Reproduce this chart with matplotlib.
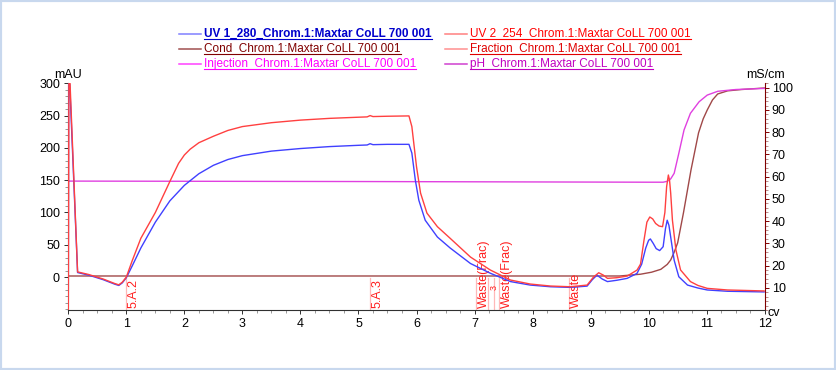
import matplotlib
matplotlib.use("Agg")
import matplotlib.pyplot as plt
from matplotlib.lines import Line2D
from matplotlib.patches import Rectangle
from matplotlib.ticker import MultipleLocator

plt.rcParams['font.family'] = ['Liberation Sans', 'DejaVu Sans']

# ---------------- data ----------------
uv1_x = [0, 0.005, 0.025, 0.16, 0.35, 0.6, 0.8, 0.87, 0.93, 1.0, 1.1, 1.25, 1.5, 1.75, 2.0, 2.25,
         2.5, 2.75, 3.0, 3.5, 4.0, 4.5, 5.0, 5.15, 5.2, 5.25, 5.5, 5.87, 5.92, 5.98, 6.04, 6.15,
         6.36, 6.58, 6.93, 7.27, 7.62, 7.96, 8.31, 8.65, 8.94, 9.03, 9.11, 9.2, 9.29, 9.45, 9.63,
         9.8, 9.88, 9.95, 10.0, 10.03, 10.08, 10.13, 10.19, 10.25, 10.29, 10.32, 10.35, 10.38,
         10.44, 10.52, 10.67, 10.85, 11.01, 11.36, 11.99]
uv1_y = [-51, 300, 298, 7, 3, -4, -11, -13, -9, -1, 17, 45, 85, 118, 142, 160,
         173, 182, 188, 195, 199, 202, 204, 204.5, 206.5, 205, 205.5, 205.5, 192, 150, 119, 88,
         62, 45, 21, 6, -7, -12.4, -15, -16, -14, -4, 3, -3, -7, -5, -2,
         5.7, 20, 45, 57, 59, 52, 44, 41, 47, 75, 88, 80, 62,
         26, 0.5, -12.4, -17, -20, -22, -23]

uv2_x = [0, 0.01, 0.03, 0.16, 0.35, 0.6, 0.8, 0.87, 0.93, 1.0, 1.1, 1.25, 1.5, 1.75, 1.9, 2.0,
         2.1, 2.25, 2.5, 2.75, 3.0, 3.5, 4.0, 4.5, 5.0, 5.15, 5.2, 5.25, 5.5, 5.87, 5.92, 6.0,
         6.07, 6.18, 6.36, 6.58, 6.93, 7.27, 7.62, 7.96, 8.31, 8.65, 8.94, 9.05, 9.14, 9.22, 9.29,
         9.45, 9.63, 9.8, 9.86, 9.92, 9.97, 10.02, 10.07, 10.12, 10.18, 10.24, 10.28, 10.31,
         10.34, 10.36, 10.38, 10.41, 10.47, 10.55, 10.72, 10.85, 11.01, 11.36, 11.99]
uv2_y = [-51, 300, 300, 8, 4, -3, -10, -12, -8, 0, 25, 60, 100, 148, 176, 189,
         198, 208, 218, 227, 233, 239, 243, 245.7, 247.5, 248, 250, 248.5, 249, 249.5, 233, 171,
         130, 99, 78, 60, 31, 11, -4.6, -10.8, -13.9, -15, -12.4, 0, 6.7, 3, -2,
         -1, 1.5, 10.8, 20, 57, 85, 93, 90, 83, 79, 78, 100, 140,
         158, 150, 130, 88, 42, 11, -7, -13, -17.5, -20, -21.5]

cond_x = [0, 9.5, 9.86, 10.05, 10.21, 10.32, 10.38, 10.44, 10.5, 10.6, 10.73, 10.86, 10.94,
          11.01, 11.1, 11.19, 11.36, 11.6, 12.0]
cond_y = [15.3, 15.3, 16.1, 17.0, 18.3, 20.5, 22.5, 26, 30.2, 43.7, 63, 79.7, 86,
          90, 94.5, 97.2, 98.6, 99.2, 99.9]

ph_x = [0, 5, 10.0, 10.25, 10.32, 10.38, 10.44, 10.52, 10.61, 10.72, 10.87, 11.01, 11.19, 11.5, 12.0]
ph_y = [58.0, 57.8, 57.5, 57.5, 57.9, 59, 61.5, 70.5, 81, 88.5, 93.7, 96.7, 98.4, 99.2, 99.7]

frac_x = [1.0, 5.2, 7.03, 7.24, 7.33, 7.43, 8.62]
frac_labels = ["5.A.2", "5.A.3", "Waste(Frac)", "", "3", "Waste(Frac)", "Waste"]

x_ticks = list(range(0, 13))
left_ticks = [0, 50, 100, 150, 200, 250, 300]
right_ticks = [10, 20, 30, 40, 50, 60, 70, 80, 90, 100]

legend_items = [
    ("UV 1_280_Chrom.1:Maxtar CoLL 700 001", "#8080FF", "#0000CC", True),
    ("UV 2_254_Chrom.1:Maxtar CoLL 700 001", "#FF8080", "#FF0000", False),
    ("Cond_Chrom.1:Maxtar CoLL 700 001", "#A05050", "#800000", False),
    ("Fraction_Chrom.1:Maxtar CoLL 700 001", "#FF9090", "#E00000", False),
    ("Injection_Chrom.1:Maxtar CoLL 700 001", "#FF40FF", "#FF00FF", False),
    ("pH_Chrom.1:Maxtar CoLL 700 001", "#D040D0", "#C000C0", False),
]

# ---------------- figure ----------------
W, H = 836, 370
fig = plt.figure(figsize=(W / 100, H / 100), dpi=100)
fig.patch.set_facecolor("white")
fig.add_artist(Rectangle((0, 0), 1, 1, transform=fig.transFigure, fill=False,
                         edgecolor="#C8D8EE", linewidth=3))

ax = fig.add_axes([68.3 / W, 60 / H, (764.7 - 68.3) / W, (310 - 83.3) / H])
ax2 = ax.twinx()

ax.set_xlim(0, 12)
ax.set_ylim(-51, 300)
ax2.set_ylim(0, 102)

# fraction marks
for fx, lab in zip(frac_x, frac_labels):
    ax.plot([fx, fx], [-51, -1], color="#FFB8B8", lw=0.9, zorder=1)
    if lab == "3":
        ax.annotate(lab, xy=(fx, -20), xytext=(0, 0), textcoords="offset points",
                    rotation=90, ha="center", va="bottom", fontsize=6.5, color="#FF2020", zorder=2)
    elif lab:
        ax.annotate(lab, xy=(fx, -48), xytext=(1.2, 0), textcoords="offset points",
                    rotation=90, ha="left", va="bottom", fontsize=9, color="#FF2020", zorder=2)

ax2.plot(cond_x, cond_y, color="#A04848", lw=1.0, zorder=3)
ax2.plot(ph_x, ph_y, color="#E040E0", lw=1.0, zorder=3)
ax.plot(uv1_x, uv1_y, color="#4040FF", lw=1.0, zorder=4)
ax.plot(uv2_x, uv2_y, color="#FF4040", lw=1.0, zorder=5)
ax.set_zorder(ax2.get_zorder() + 1)
ax.patch.set_visible(False)

for a in (ax, ax2):
    a.spines["top"].set_visible(False)
ax.spines["right"].set_visible(False)
ax2.spines["left"].set_visible(False)
ax2.spines["bottom"].set_visible(False)
ax.spines["left"].set_color("#303030")
ax.spines["bottom"].set_color("#303030")
ax2.spines["right"].set_color("#800000")

ax.set_xticks(x_ticks)
ax.set_xticklabels([str(t) for t in x_ticks])
ax.xaxis.set_minor_locator(MultipleLocator(0.25))
ax.set_yticks(left_ticks)
ax.set_yticklabels([str(t) for t in left_ticks])
ax.yaxis.set_minor_locator(MultipleLocator(10))
ax2.set_yticks(right_ticks)
ax2.set_yticklabels([str(t) for t in right_ticks])
ax2.yaxis.set_minor_locator(MultipleLocator(2))

ax.tick_params(axis="both", which="major", direction="out", length=3, width=0.7,
               labelsize=9, color="#303030", pad=3)
ax.tick_params(axis="both", which="minor", direction="out", length=2, width=0.5, color="#707070")
ax2.tick_params(axis="y", which="major", direction="out", length=3, width=0.7,
                labelsize=9, color="#800000", pad=2)
ax2.tick_params(axis="y", which="minor", direction="out", length=2, width=0.5, color="#A06060")

fig.text(68.5 / W, 1 - 75 / H, "mAU", ha="center", va="center", fontsize=9)
fig.text(765 / W, 1 - 75 / H, "mS/cm", ha="center", va="center", fontsize=9)
fig.text(768 / W, 1 - 313 / H, "cv", ha="left", va="center", fontsize=9)

# legend (manual, underlined text)
col_line_x = [(179, 201), (445, 467)]
col_text_x = [204, 470]
row_y = [33.5, 48.5, 63.5]
texts = []
for i, (label, lc, tc, bold) in enumerate(legend_items):
    r, c = divmod(i, 2)
    y = 1 - row_y[r] / H
    fig.add_artist(Line2D([col_line_x[c][0] / W, col_line_x[c][1] / W], [y, y],
                          transform=fig.transFigure, color=lc, lw=1.1))
    t = fig.text(col_text_x[c] / W, y, label, ha="left", va="center", fontsize=8.5,
                 color=tc, fontweight="bold" if bold else "normal")
    texts.append((t, tc))

fig.canvas.draw()
renderer = fig.canvas.get_renderer()
for t, tc in texts:
    bb = t.get_window_extent(renderer)
    yu = (bb.y0 + 0.5) / H
    fig.add_artist(Line2D([bb.x0 / W, bb.x1 / W], [yu, yu], transform=fig.transFigure,
                          color=tc, lw=0.8))

fig.savefig("out.png", dpi=100)
